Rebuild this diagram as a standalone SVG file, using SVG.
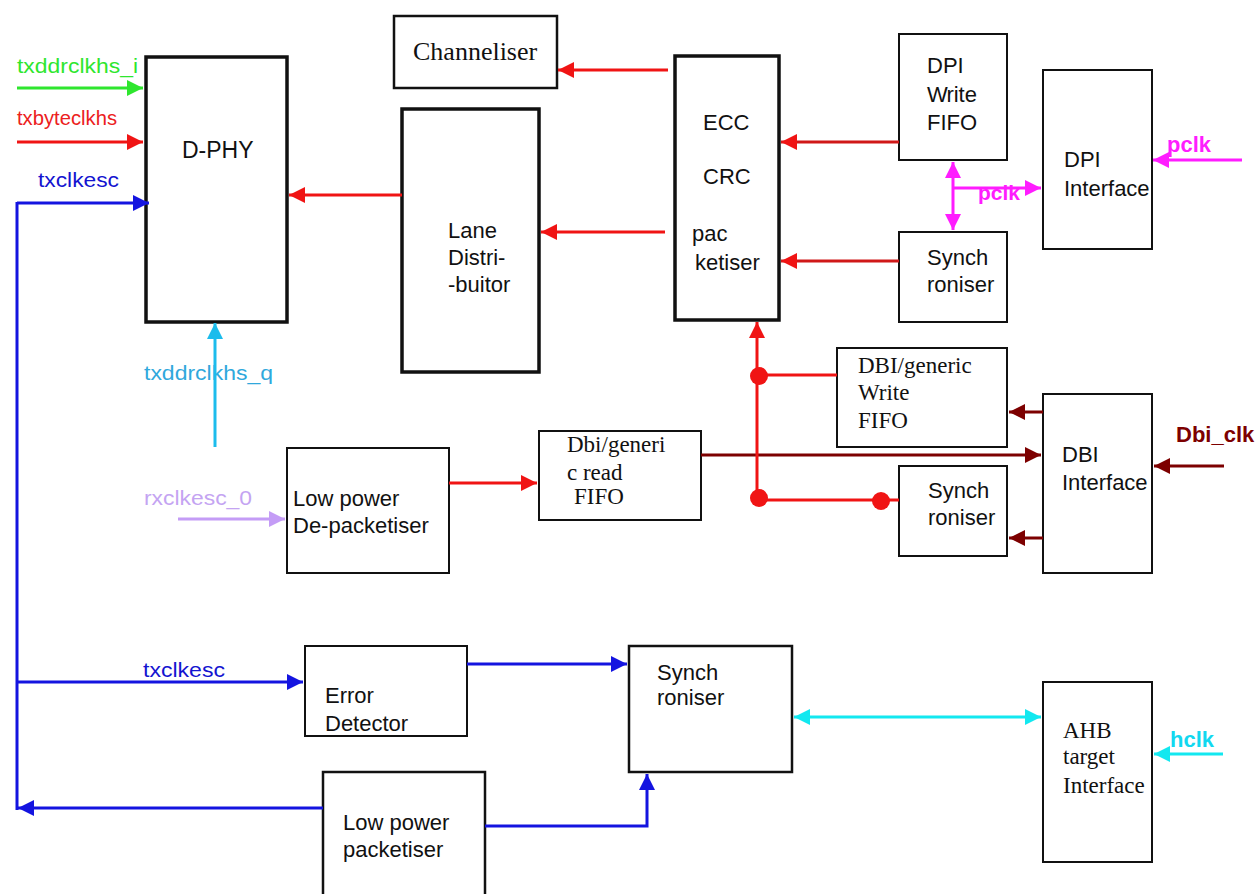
<svg xmlns="http://www.w3.org/2000/svg" width="1260" height="894" viewBox="0 0 1260 894">
<style>
.box{fill:#fff;stroke:#111;stroke-width:2}
.thick{stroke-width:3.5}
.s{font-family:"Liberation Sans",Arial,sans-serif;font-size:22px;fill:#111}
.r{font-family:"Liberation Serif","Times New Roman",serif;font-size:23px;fill:#111}
.lbl{font-family:"Liberation Sans",Arial,sans-serif;font-size:21px}
.bl{font-family:"Liberation Sans",Arial,sans-serif;font-size:22px;font-weight:bold}
.w{fill:none;stroke-width:3}
</style>
<defs>
<marker id="aR" markerUnits="userSpaceOnUse" markerWidth="16" markerHeight="16" refX="16" refY="8" orient="auto-start-reverse"><path d="M0,0 L16,8 L0,16 z" fill="#f01414"/></marker>
<marker id="aDR" markerUnits="userSpaceOnUse" markerWidth="16" markerHeight="16" refX="16" refY="8" orient="auto-start-reverse"><path d="M0,0 L16,8 L0,16 z" fill="#7d0000"/></marker>
<marker id="aB" markerUnits="userSpaceOnUse" markerWidth="16" markerHeight="16" refX="16" refY="8" orient="auto-start-reverse"><path d="M0,0 L16,8 L0,16 z" fill="#1414e0"/></marker>
<marker id="aG" markerUnits="userSpaceOnUse" markerWidth="16" markerHeight="16" refX="16" refY="8" orient="auto-start-reverse"><path d="M0,0 L16,8 L0,16 z" fill="#2ee62e"/></marker>
<marker id="aM" markerUnits="userSpaceOnUse" markerWidth="16" markerHeight="16" refX="16" refY="8" orient="auto-start-reverse"><path d="M0,0 L16,8 L0,16 z" fill="#ff1cff"/></marker>
<marker id="aC" markerUnits="userSpaceOnUse" markerWidth="16" markerHeight="16" refX="16" refY="8" orient="auto-start-reverse"><path d="M0,0 L16,8 L0,16 z" fill="#12e8f0"/></marker>
<marker id="aLB" markerUnits="userSpaceOnUse" markerWidth="16" markerHeight="16" refX="16" refY="8" orient="auto-start-reverse"><path d="M0,0 L16,8 L0,16 z" fill="#1cbcec"/></marker>
<marker id="aL" markerUnits="userSpaceOnUse" markerWidth="16" markerHeight="16" refX="16" refY="8" orient="auto-start-reverse"><path d="M0,0 L16,8 L0,16 z" fill="#c49cf6"/></marker>
</defs>
<rect width="1260" height="894" fill="#fff"/>

<g id="dphy"><rect class="box thick" x="146" y="57" width="141" height="265"/><text class="s" style="font-size:23px" x="182" y="158">D-PHY</text></g>
<g id="channeliser"><rect class="box" style="stroke-width:2.5" x="394" y="16" width="163" height="72"/><text class="r" style="font-size:26px" x="413" y="60">Channeliser</text></g>
<g id="lane"><rect class="box thick" x="402" y="109" width="137" height="263"/><text class="s" x="448" y="238">Lane</text><text class="s" x="448" y="265">Distri-</text><text class="s" x="448" y="292">-buitor</text></g>
<g id="ecc"><rect class="box thick" x="675" y="56" width="104" height="264"/><text class="s" x="703" y="130">ECC</text><text class="s" x="703" y="184">CRC</text><text class="s" x="692" y="241">pac</text><text class="s" x="695" y="270">ketiser</text></g>
<g id="dpiwfifo"><rect class="box" x="899" y="34" width="108" height="126"/><text class="s" x="927" y="73">DPI</text><text class="s" x="927" y="102">W<tspan dx="-1">rite</tspan></text><text class="s" x="927" y="130">FIFO</text></g>
<g id="dpisync"><rect class="box" x="899" y="232" width="108" height="90"/><text class="s" x="927" y="265">Synch</text><text class="s" x="927" y="292">roniser</text></g>
<g id="dpiif"><rect class="box" x="1043" y="70" width="109" height="179"/><text class="s" x="1064" y="167">DPI</text><text class="s" x="1064" y="196">Interface</text></g>
<g id="dbiwfifo"><rect class="box" x="837" y="348" width="170" height="99"/><text class="r" x="858" y="373">DBI/generic</text><text class="r" x="858" y="400">Write</text><text class="r" x="858" y="428">FIFO</text></g>
<g id="dbisync"><rect class="box" x="899" y="466" width="108" height="90"/><text class="s" x="928" y="498">Synch</text><text class="s" x="928" y="525">roniser</text></g>
<g id="dbiif"><rect class="box" x="1043" y="394" width="109" height="179"/><text class="s" x="1062" y="462">DBI</text><text class="s" x="1062" y="490">Interface</text></g>
<g id="dbirfifo"><rect class="box" x="539" y="431" width="162" height="89"/><text class="r" x="567" y="452">Dbi/generi</text><text class="r" x="567" y="480">c read</text><text class="r" x="574" y="504">FIFO</text></g>
<g id="lpdepack"><rect class="box" x="287" y="448" width="162" height="125"/><text class="s" x="293" y="506">Low power</text><text class="s" x="293" y="533">De-packetiser</text></g>
<g id="errdet"><rect class="box" x="305" y="646" width="162" height="90"/><text class="s" x="325" y="703">Error</text><text class="s" x="325" y="731">Detector</text></g>
<g id="sync3"><rect class="box thick" style="stroke-width:2.5" x="629" y="646" width="163" height="126"/><text class="s" x="657" y="680">Synch</text><text class="s" x="657" y="705">roniser</text></g>
<g id="lppack"><rect class="box thick" style="stroke-width:2.5" x="323" y="772" width="162" height="130"/><text class="s" x="343" y="830">Low power</text><text class="s" x="343" y="857">packetiser</text></g>
<g id="ahb"><rect class="box" x="1043" y="682" width="109" height="180"/><text class="r" x="1063" y="738">AHB</text><text class="r" x="1063" y="764">target</text><text class="r" x="1063" y="793">Interface</text></g>

<g id="labels">
<text class="lbl" fill="#2ee62e" x="17" y="73" textLength="121" lengthAdjust="spacingAndGlyphs">txddrclkhs_i</text>
<text class="lbl" fill="#ec2020" x="17" y="125" textLength="100" lengthAdjust="spacingAndGlyphs">txbyteclkhs</text>
<text class="lbl" fill="#1414d0" x="38" y="187" textLength="81" lengthAdjust="spacingAndGlyphs">txclkesc</text>
<text class="lbl" fill="#30a8dc" x="144" y="380" textLength="129" lengthAdjust="spacingAndGlyphs">txddrclkhs_q</text>
<text class="lbl" fill="#c4a4f2" x="144" y="505" textLength="108" lengthAdjust="spacingAndGlyphs">rxclkesc_0</text>
<text class="lbl" fill="#1414d0" x="143" y="677" textLength="82" lengthAdjust="spacingAndGlyphs">txclkesc</text>
<text class="bl" fill="#ff1cff" x="1167" y="152">pclk</text>
<text class="bl" fill="#ff1cff" style="font-size:21px" x="978" y="200">pclk</text>
<text class="bl" fill="#7d0000" x="1176" y="442">Dbi_clk</text>
<text class="bl" fill="#12d8f0" x="1170" y="747">hclk</text>
</g>

<g id="connectors">
<line class="w" stroke="#2ee62e" x1="17" y1="88" x2="143" y2="88" marker-end="url(#aG)"/>
<line class="w" stroke="#f01414" x1="17" y1="142" x2="143" y2="142" marker-end="url(#aR)"/>
<line class="w" stroke="#1414e0" x1="17" y1="203" x2="149" y2="203" marker-end="url(#aB)"/>
<line class="w" stroke="#1414e0" x1="17" y1="202" x2="17" y2="810"/>
<line class="w" stroke="#f01414" x1="402" y1="195" x2="289" y2="195" marker-end="url(#aR)"/>
<line class="w" stroke="#f01414" x1="668" y1="70" x2="558" y2="70" marker-end="url(#aR)"/>
<line class="w" stroke="#f01414" x1="665" y1="232" x2="541" y2="232" marker-end="url(#aR)"/>
<line class="w" stroke="#d01818" x1="899" y1="142" x2="781" y2="142" marker-end="url(#aR)"/>
<line class="w" stroke="#d01818" x1="899" y1="261" x2="781" y2="261" marker-end="url(#aR)"/>
<line class="w" stroke="#ff1cff" x1="953" y1="162" x2="953" y2="230" marker-start="url(#aM)" marker-end="url(#aM)"/>
<line class="w" stroke="#ff1cff" x1="953" y1="188" x2="1041" y2="188" marker-end="url(#aM)"/>
<line class="w" stroke="#ff1cff" x1="1242" y1="160" x2="1153" y2="160" marker-end="url(#aM)"/>
<line class="w" stroke="#1cbcec" x1="215" y1="447" x2="215" y2="323" marker-end="url(#aLB)"/>
<line class="w" stroke="#c49cf6" x1="178" y1="519" x2="285" y2="519" marker-end="url(#aL)"/>
<line class="w" stroke="#f01414" x1="449" y1="483" x2="537" y2="483" marker-end="url(#aR)"/>
<line class="w" stroke="#7d0000" x1="701" y1="455" x2="1041" y2="455" marker-end="url(#aDR)"/>
<line class="w" stroke="#f01414" x1="757" y1="499" x2="757" y2="322" marker-end="url(#aR)"/>
<line class="w" stroke="#f01414" x1="759" y1="375" x2="837" y2="375"/>
<line class="w" stroke="#f01414" x1="759" y1="500" x2="899" y2="500"/>
<circle cx="759" cy="376" r="9" fill="#f01414"/>
<circle cx="759" cy="498" r="9" fill="#f01414"/>
<circle cx="881" cy="501" r="9" fill="#f01414"/>
<line class="w" stroke="#7d0000" x1="1043" y1="412" x2="1009" y2="412" marker-end="url(#aDR)"/>
<line class="w" stroke="#7d0000" x1="1043" y1="538" x2="1009" y2="538" marker-end="url(#aDR)"/>
<line class="w" stroke="#7d0000" x1="1224" y1="466" x2="1154" y2="466" marker-end="url(#aDR)"/>
<line class="w" stroke="#1414e0" x1="17" y1="682" x2="303" y2="682" marker-end="url(#aB)"/>
<line class="w" stroke="#1414e0" x1="467" y1="664" x2="627" y2="664" marker-end="url(#aB)"/>
<line class="w" stroke="#1414e0" x1="323" y1="808" x2="18" y2="808" marker-end="url(#aB)"/>
<polyline class="w" stroke="#1414e0" points="485,826 647,826 647,774" marker-end="url(#aB)"/>
<line class="w" stroke="#12e8f0" x1="794" y1="717" x2="1041" y2="717" marker-start="url(#aC)" marker-end="url(#aC)"/>
<line class="w" stroke="#12e8f0" x1="1223" y1="754" x2="1154" y2="754" marker-end="url(#aC)"/>
</g>
</svg>
